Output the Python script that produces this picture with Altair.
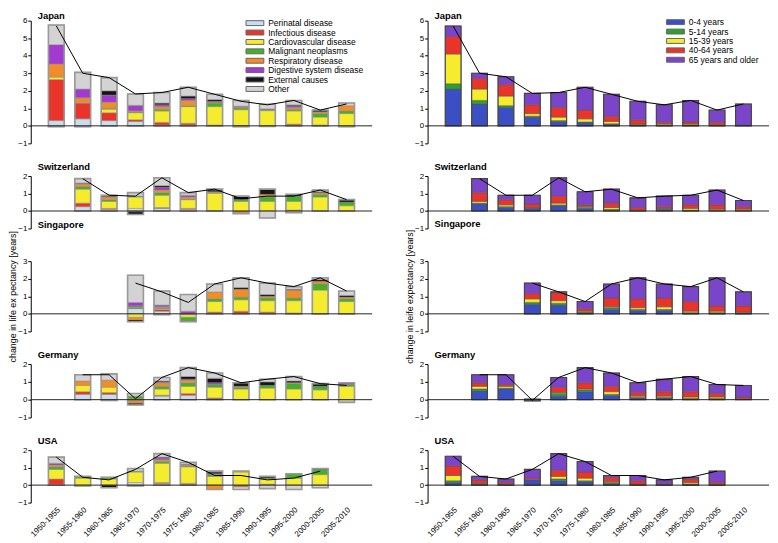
import altair as alt
import pandas as pd

FONT = "Liberation Sans"

PERIODS = ["1950-1955", "1955-1960", "1960-1965", "1965-1970", "1970-1975", "1975-1980",
           "1980-1985", "1985-1990", "1990-1995", "1995-2000", "2000-2005", "2005-2010"]

CAUSES = ["Perinatal disease", "Infectious disease", "Cardiovascular disease", "Malignant neoplasms",
          "Respiratory disease", "Digestive system disease", "External causes", "Other"]
CAUSE_COLORS = ["#c9dcf0", "#e8342a", "#f5ec2e", "#44b02a", "#f28c28", "#a23ad0", "#151515", "#d3d3d3"]

AGES = ["0-4 years", "5-14 years", "15-39 years", "40-64 years", "65 years and older"]
AGE_COLORS = ["#3a4fc4", "#2ea02c", "#f5ec2e", "#e8342a", "#7a45c8"]

COUNTRIES = ["Japan", "Switzerland", "Singapore", "Germany", "USA"]
FIRST = {"Japan": 0, "Switzerland": 1, "Singapore": 3, "Germany": 1, "USA": 0}
YMAX = {"Japan": 6, "Switzerland": 2, "Singapore": 3, "Germany": 2, "USA": 2}
HEIGHTS = {"Japan": 124, "Switzerland": 53, "Singapore": 71, "Germany": 54, "USA": 53}

# cause contributions: perinatal, infectious, cardio, malignant, respiratory, digestive, external, other
JAPAN_CAUSE = [
    [0.30, 2.35, 0.13, -0.05, 0.75, 1.10, 0.00, 1.12],
    [0.40, 0.90, 0.05, -0.05, 0.25, 0.50, 0.00, 0.95],
    [0.30, 0.45, 0.20, 0.05, 0.35, 0.40, 0.25, 0.75],
    [0.25, 0.10, 0.40, 0.05, 0.05, 0.30, 0.02, 0.65],
    [0.05, 0.15, 0.65, 0.10, 0.15, 0.10, 0.10, 0.60],
    [0.05, 0.10, 0.95, 0.05, 0.30, 0.10, 0.15, 0.50],
    [0.02, 0.03, 1.05, 0.20, 0.05, 0.05, 0.10, 0.30],
    [0.00, 0.02, 0.90, 0.10, 0.05, 0.05, -0.05, 0.33],
    [-0.03, 0.02, 0.85, 0.05, 0.00, 0.05, 0.00, 0.26],
    [0.00, 0.10, 0.75, 0.10, 0.10, 0.10, 0.05, 0.25],
    [0.00, 0.05, 0.45, 0.20, 0.10, 0.00, 0.10, 0.00],
    [0.00, 0.00, 0.70, 0.15, 0.30, 0.00, -0.05, 0.15],
]
SWITZERLAND_CAUSE = [
    [0.25, 0.20, 0.80, 0.15, 0.15, 0.05, 0.00, 0.25],
    [0.10, 0.05, 0.40, 0.10, 0.15, 0.03, 0.07, 0.00],
    [0.15, -0.05, 0.65, 0.05, 0.00, 0.00, -0.15, 0.20],
    [0.15, 0.05, 0.70, 0.15, 0.15, 0.15, 0.10, 0.45],
    [0.10, 0.05, 0.50, 0.05, 0.10, 0.10, 0.00, 0.15],
    [0.02, 0.00, 1.00, 0.03, 0.05, 0.00, 0.10, 0.05],
    [0.00, -0.05, 0.55, 0.10, -0.10, 0.00, 0.20, 0.00],
    [0.00, 0.00, 0.55, 0.25, 0.15, 0.00, 0.30, -0.40],
    [0.00, 0.05, 0.50, 0.30, 0.00, 0.00, 0.10, -0.10],
    [0.00, 0.00, 0.80, 0.15, 0.10, 0.00, 0.05, 0.10],
    [0.00, 0.00, 0.30, 0.20, 0.00, 0.00, 0.15, 0.00],
]
SINGAPORE_CAUSE = [
    [0.30, 0.05, -0.20, 0.10, -0.15, 0.20, -0.10, 1.55],
    [0.15, 0.10, 0.05, 0.05, 0.05, 0.10, -0.05, 0.80],
    [0.00, -0.05, -0.15, -0.20, 0.00, 0.15, -0.05, 0.95],
    [0.00, 0.10, 0.60, 0.15, 0.40, 0.00, 0.00, 0.45],
    [0.00, 0.15, 0.65, 0.15, 0.45, 0.00, 0.10, 0.55],
    [0.00, 0.10, 0.65, 0.15, 0.10, 0.00, 0.10, 0.65],
    [0.00, 0.05, 0.70, 0.15, 0.45, 0.00, 0.05, 0.15],
    [0.00, 0.00, 1.35, 0.35, 0.15, 0.00, 0.10, 0.10],
    [0.00, 0.00, 0.70, 0.15, 0.10, 0.00, 0.10, 0.25],
]
GERMANY_CAUSE = [
    [0.30, 0.15, 0.35, 0.00, 0.25, 0.00, 0.00, 0.35],
    [0.30, 0.10, 0.30, 0.00, 0.40, 0.00, -0.05, 0.35],
    [0.05, -0.05, 0.00, 0.15, -0.15, 0.00, -0.10, 0.15],
    [0.20, 0.05, 0.35, 0.15, 0.20, 0.05, 0.05, 0.20],
    [0.25, 0.10, 0.40, 0.20, 0.15, 0.05, 0.15, 0.50],
    [0.05, 0.05, 0.60, 0.15, 0.00, 0.10, 0.25, 0.30],
    [0.00, 0.00, 0.60, 0.10, 0.05, 0.00, 0.20, 0.00],
    [0.00, 0.00, 0.65, 0.15, 0.00, 0.00, 0.20, 0.15],
    [0.00, 0.00, 0.60, 0.30, 0.05, 0.00, 0.10, 0.25],
    [0.00, 0.00, 0.55, 0.20, 0.00, 0.00, 0.15, 0.00],
    [0.00, 0.00, 0.75, 0.10, 0.00, 0.10, 0.00, -0.15],
]
USA_CAUSE = [
    [0.00, 0.35, 0.55, 0.15, 0.10, 0.10, 0.00, 0.35],
    [0.00, 0.00, 0.40, 0.10, 0.00, 0.00, 0.00, -0.05],
    [0.00, 0.00, 0.35, 0.10, 0.00, 0.00, -0.15, 0.00],
    [0.15, 0.00, 0.60, 0.05, 0.00, 0.00, -0.05, 0.15],
    [0.10, 0.05, 1.10, 0.10, 0.10, 0.10, 0.05, 0.20],
    [0.00, 0.10, 0.95, 0.05, 0.05, 0.05, 0.00, 0.10],
    [0.00, 0.00, 0.50, 0.10, -0.25, 0.05, 0.10, 0.05],
    [0.00, -0.10, 0.75, 0.00, 0.05, 0.00, 0.00, -0.15],
    [0.00, 0.05, 0.30, 0.05, 0.00, 0.00, 0.10, -0.20],
    [0.00, 0.00, 0.40, 0.25, 0.00, 0.00, 0.00, -0.25],
    [0.00, 0.00, 0.60, 0.30, 0.00, 0.00, 0.05, -0.15],
]

# age contributions: 0-4, 5-14, 15-39, 40-64, 65+
JAPAN_AGE = [
    [2.10, 0.30, 1.70, 1.00, 0.60],
    [1.25, 0.20, 0.65, 0.60, 0.30],
    [1.05, 0.10, 0.55, 0.65, 0.45],
    [0.50, 0.05, 0.15, 0.50, 0.65],
    [0.25, 0.05, 0.20, 0.55, 0.85],
    [0.20, 0.02, 0.18, 0.50, 1.30],
    [0.10, 0.02, 0.13, 0.30, 1.25],
    [0.05, 0.02, 0.03, 0.25, 1.05],
    [0.03, 0.01, 0.06, 0.10, 1.00],
    [0.04, 0.01, 0.05, 0.12, 1.23],
    [0.02, 0.00, 0.03, 0.15, 0.70],
    [0.02, 0.00, 0.01, 0.02, 1.20],
]
SWITZERLAND_AGE = [
    [0.40, 0.05, 0.10, 0.50, 0.80],
    [0.20, 0.05, 0.10, 0.30, 0.25],
    [0.15, 0.03, 0.02, 0.20, 0.50],
    [0.30, 0.05, 0.10, 0.40, 1.05],
    [0.15, 0.05, 0.05, 0.10, 0.75],
    [0.05, 0.05, 0.10, 0.25, 0.80],
    [0.00, 0.02, 0.03, 0.15, 0.55],
    [0.10, 0.05, 0.00, 0.10, 0.60],
    [0.05, 0.00, 0.10, 0.20, 0.55],
    [0.03, 0.00, 0.07, 0.25, 0.85],
    [0.03, 0.00, 0.07, 0.15, 0.35],
]
SINGAPORE_AGE = [
    [0.55, 0.10, 0.20, 0.30, 0.60],
    [0.50, 0.10, 0.15, 0.45, 0.05],
    [0.05, 0.05, 0.05, 0.15, 0.40],
    [0.25, 0.10, 0.05, 0.50, 0.80],
    [0.20, 0.05, 0.10, 0.50, 1.20],
    [0.20, 0.05, 0.15, 0.50, 0.80],
    [0.05, 0.02, 0.08, 0.55, 0.85],
    [0.05, 0.02, 0.08, 0.30, 1.60],
    [0.05, 0.02, 0.03, 0.35, 0.80],
]
GERMANY_AGE = [
    [0.50, 0.10, 0.15, 0.20, 0.45],
    [0.60, 0.05, 0.10, 0.10, 0.55],
    [0.03, 0.00, 0.00, 0.00, -0.07],
    [0.20, 0.15, 0.05, 0.30, 0.55],
    [0.45, 0.10, 0.05, 0.35, 0.85],
    [0.25, 0.05, 0.15, 0.30, 0.75],
    [0.10, 0.03, 0.07, 0.20, 0.55],
    [0.10, 0.03, 0.07, 0.25, 0.70],
    [0.05, 0.02, 0.08, 0.30, 0.85],
    [0.05, 0.02, 0.08, 0.20, 0.50],
    [0.03, 0.00, 0.02, 0.10, 0.65],
]
USA_AGE = [
    [0.15, 0.10, 0.30, 0.55, 0.55],
    [0.05, 0.02, 0.03, 0.20, 0.20],
    [0.02, 0.00, 0.03, 0.10, 0.20],
    [0.30, 0.00, 0.00, 0.10, 0.50],
    [0.25, 0.10, 0.15, 0.35, 0.95],
    [0.20, 0.05, 0.15, 0.35, 0.60],
    [0.10, 0.05, 0.05, 0.25, 0.10],
    [0.03, 0.00, 0.02, 0.20, 0.30],
    [0.05, 0.00, 0.00, 0.05, 0.20],
    [0.05, 0.02, 0.08, 0.20, 0.10],
    [0.02, 0.00, 0.00, 0.13, 0.65],
]

CAUSE_DATA = {"Japan": JAPAN_CAUSE, "Switzerland": SWITZERLAND_CAUSE, "Singapore": SINGAPORE_CAUSE,
              "Germany": GERMANY_CAUSE, "USA": USA_CAUSE}
AGE_DATA = {"Japan": JAPAN_AGE, "Switzerland": SWITZERLAND_AGE, "Singapore": SINGAPORE_AGE,
            "Germany": GERMANY_AGE, "USA": USA_AGE}

Y_TITLES = {"left": "change in life ex pectancy [years]", "right": "change in leife expectancy [years]"}

W = 345


def panel(country, side):
    rows = CAUSE_DATA[country] if side == "left" else AGE_DATA[country]
    cats = CAUSES if side == "left" else AGES
    colors = CAUSE_COLORS if side == "left" else AGE_COLORS
    first = FIRST[country]
    H = HEIGHTS[country]
    ymax = YMAX[country]

    recs = []
    for i, vals in enumerate(rows):
        for j, v in enumerate(vals):
            if v != 0:
                recs.append({"period": PERIODS[first + i], "cat": cats[j], "idx": j, "value": v})
    seg = pd.DataFrame(recs)
    tot = pd.DataFrame({
        "period": [PERIODS[first + i] for i in range(len(rows))],
        "net": [round(sum(r), 3) for r in rows],
        "pos": [sum(v for v in r if v > 0) for r in rows],
        "neg": [sum(v for v in r if v < 0) for r in rows],
    })

    if country == "USA":
        xaxis = alt.Axis(title=None, labelAngle=-45, labelAlign="right", labelBaseline="middle",
                         labelFontSize=8, labelFont=FONT, labelColor="black", domain=False,
                         ticks=False, labelPadding=6, labelOverlap=False, labelOffset=3)
    else:
        xaxis = None
    xs = alt.Scale(domain=PERIODS, range=[12.5, 332.5], paddingInner=0.4, paddingOuter=0.2)
    ys = alt.Scale(domain=[-1, ymax], nice=False, zero=False)
    yaxis = alt.Axis(values=list(range(-1, ymax + 1)), format="d", grid=False,
                     domainColor="black", domainWidth=1, tickColor="black", tickSize=3,
                     tickWidth=1, labelFontSize=8, labelFont=FONT, labelColor="black",
                     labelPadding=1,
                     title=Y_TITLES[side] if country == "Singapore" else None,
                     titleFont=FONT, titleFontSize=9, titleFontWeight="normal",
                     titleColor="black", titlePadding=0)

    if country == "Japan":
        if side == "left":
            lx, ly = 222, -2
        else:
            lx, ly = 246, -3
        legend = alt.Legend(title=None, orient="none", legendX=lx, legendY=ly,
                            symbolType="M-2.25,-0.62H2.25V0.62H-2.25Z", symbolSize=64,
                            symbolStrokeColor="#666", symbolStrokeWidth=1,
                            labelFontSize=8.5, labelFont=FONT, labelColor="black",
                            rowPadding=0.5, labelOffset=9, padding=0)
    else:
        legend = None

    seg_stroke = "#8a8a8a" if side == "left" else "#555555"
    out_stroke = "#999999" if side == "left" else "#444444"
    out_w = 1.6 if side == "left" else 1.1

    bars = alt.Chart(seg).mark_bar(stroke=seg_stroke, strokeWidth=0.5).encode(
        x=alt.X("period:N", scale=xs, axis=xaxis, title=None),
        y=alt.Y("value:Q", stack="zero", scale=ys, axis=yaxis),
        color=alt.Color("cat:N", scale=alt.Scale(domain=cats, range=colors), legend=legend),
        order=alt.Order("idx:Q", sort="ascending"),
    )
    outline = alt.Chart(tot).mark_bar(fillOpacity=0, stroke=out_stroke, strokeWidth=out_w).encode(
        x=alt.X("period:N", scale=xs, axis=xaxis, title=None),
        y=alt.Y("pos:Q", scale=ys, axis=yaxis),
        y2="neg:Q",
    )
    zero = alt.Chart(pd.DataFrame({"z": [0]})).mark_rule(color="#222222", strokeWidth=1).encode(
        y=alt.Y("z:Q", scale=ys, axis=yaxis),
        x=alt.value(0),
        x2=alt.value(W),
    )
    line = alt.Chart(tot).mark_line(color="black", strokeWidth=1).encode(
        x=alt.X("period:N", scale=xs, axis=xaxis, title=None),
        y=alt.Y("net:Q", scale=ys, axis=yaxis),
    )
    return alt.layer(bars, outline, zero, line).properties(
        width=W, height=H,
        title=alt.TitleParams(country, anchor="start", frame="group", dx=7,
                              offset=-4 if country == "Japan" else 1,
                              fontSize=9.5, font=FONT, fontWeight="bold", color="black"),
    )


panels = []
for c in COUNTRIES:
    panels.append(panel(c, "left"))
    panels.append(panel(c, "right"))

chart = alt.concat(*panels, columns=2, spacing={"row": 33, "column": 56},
                   bounds="flush", align="each").resolve_scale(
    color="independent", x="independent", y="independent"
).properties(
    padding={"left": 0, "top": 0, "right": 0, "bottom": 0}
).configure_view(stroke=None)

chart.save("out.html", embed_options={"renderer": "svg", "actions": False})
